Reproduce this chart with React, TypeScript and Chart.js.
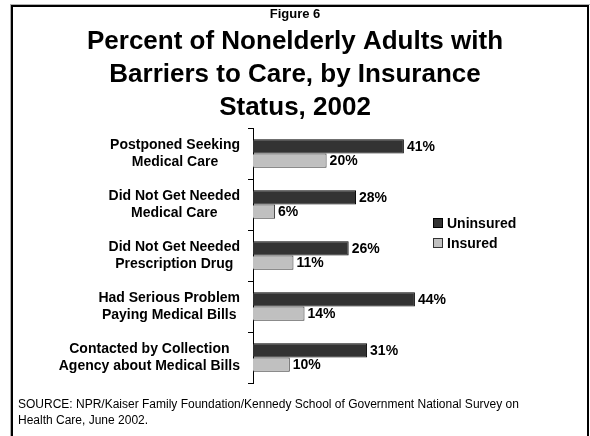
import React, { useEffect, useRef } from 'react';
import { Chart, registerables } from 'chart.js';

Chart.register(...registerables);

const categories: string[][] = [
  ['Postponed Seeking', 'Medical Care'],
  ['Did Not Get Needed', 'Medical Care'],
  ['Did Not Get Needed', 'Prescription Drug'],
  ['Had Serious Problem', 'Paying Medical Bills'],
  ['Contacted by Collection', 'Agency about Medical Bills'],
];
const uninsured = [41, 28, 26, 44, 31];
const insured = [20, 6, 11, 14, 10];
const seriesNames = ['Uninsured', 'Insured'];
const seriesFill = ['#333333', '#c0c0c0'];
const seriesBorder = ['#000000', '#333333'];
const figureLabel = 'Figure 6';
const titleLines = ['Percent of Nonelderly Adults with', 'Barriers to Care, by Insurance', 'Status, 2002'];
const sourceLines = [
  'SOURCE: NPR/Kaiser Family Foundation/Kennedy School of Government National Survey on',
  'Health Care, June 2002.',
];

const FONT = '"Liberation Sans", Arial, Helvetica, sans-serif';

const framePlugin = {
  id: 'frame',
  afterDraw(chart: any) {
    const ctx = chart.ctx;
    ctx.save();
    ctx.fillStyle = '#b0b0b0';
    ctx.fillRect(10, 4, 580, 1);
    ctx.fillRect(10, 4, 1, 440);
    ctx.fillStyle = '#000';
    ctx.fillRect(11, 5, 578, 2);
    ctx.fillRect(11, 5, 2, 440);
    ctx.fillRect(587, 5, 2, 440);
    ctx.restore();
  },
};

const categoryLabelPlugin = {
  id: 'categoryLabels',
  afterDraw(chart: any) {
    const ctx = chart.ctx;
    const yScale = chart.scales.y;
    const right = chart.chartArea.left - 13;
    ctx.save();
    ctx.font = `bold 14px ${FONT}`;
    ctx.fillStyle = '#000';
    ctx.textAlign = 'center';
    ctx.textBaseline = 'middle';
    const lh = 17;
    categories.forEach((lines, i) => {
      const yc = yScale.getPixelForValue(i);
      const w = Math.max(...lines.map((l) => ctx.measureText(l).width));
      const cx = right - w / 2;
      const y0 = yc - ((lines.length - 1) * lh) / 2;
      lines.forEach((l, j) => ctx.fillText(l, cx, y0 + j * lh));
    });
    ctx.restore();
  },
};

const valueLabelPlugin = {
  id: 'valueLabels',
  afterDatasetsDraw(chart: any) {
    const ctx = chart.ctx;
    ctx.save();
    ctx.font = `bold 14px ${FONT}`;
    ctx.fillStyle = '#000';
    ctx.textAlign = 'left';
    ctx.textBaseline = 'middle';
    chart.data.datasets.forEach((ds: any, di: number) => {
      const meta = chart.getDatasetMeta(di);
      meta.data.forEach((el: any, i: number) => {
        ctx.fillText(`${ds.data[i]}%`, el.x + 3, el.y + 1);
      });
    });
    ctx.restore();
  },
};

const legendPlugin = {
  id: 'customLegend',
  afterDraw(chart: any) {
    const ctx = chart.ctx;
    const x = chart.chartArea.right - 4;
    const yStart = 223;
    ctx.save();
    ctx.font = `bold 14px ${FONT}`;
    ctx.textAlign = 'left';
    ctx.textBaseline = 'middle';
    seriesNames.forEach((name, i) => {
      const y = yStart + i * 20;
      ctx.fillStyle = seriesFill[i];
      ctx.fillRect(x, y - 5, 10, 10);
      ctx.strokeStyle = seriesBorder[i];
      ctx.lineWidth = 1;
      ctx.strokeRect(x + 0.5, y - 4.5, 9, 9);
      ctx.fillStyle = '#000';
      ctx.fillText(name, x + 14, y + 1);
    });
    ctx.restore();
  },
};

const sourcePlugin = {
  id: 'sourceText',
  afterDraw(chart: any) {
    const ctx = chart.ctx;
    ctx.save();
    ctx.font = `12px ${FONT}`;
    ctx.fillStyle = '#000';
    ctx.textAlign = 'left';
    ctx.textBaseline = 'middle';
    sourceLines.forEach((l, i) => ctx.fillText(l, 18, 405 + i * 16));
    ctx.restore();
  },
};

export default function App() {
  const ref = useRef<HTMLCanvasElement | null>(null);
  useEffect(() => {
    if (!ref.current) return;
    const chart = new Chart(ref.current, {
      type: 'bar',
      data: {
        labels: categories,
        datasets: [
          {
            label: seriesNames[0],
            data: uninsured,
            backgroundColor: seriesFill[0],
            borderColor: seriesBorder[0],
            borderWidth: 1,
            categoryPercentage: 0.56,
            barPercentage: 1,
          },
          {
            label: seriesNames[1],
            data: insured,
            backgroundColor: seriesFill[1],
            borderColor: seriesBorder[1],
            borderWidth: 1,
            categoryPercentage: 0.56,
            barPercentage: 1,
          },
        ],
      },
      options: {
        indexAxis: 'y',
        responsive: false,
        animation: false,
        devicePixelRatio: 1,
        layout: { padding: { left: 0, right: 0, top: 0, bottom: 53 } },
        plugins: {
          legend: { display: false },
          tooltip: { enabled: false },
          title: {
            display: true,
            text: figureLabel,
            color: '#000',
            font: { family: FONT, size: 13, weight: 'bold', lineHeight: '14px' },
            padding: { top: 7, bottom: 0 },
          },
          subtitle: {
            display: true,
            text: titleLines,
            color: '#000',
            font: { family: FONT, size: 26, weight: 'bold', lineHeight: '33px' },
            padding: { top: 4, bottom: 4 },
          },
        },
        scales: {
          x: { display: false, min: 0, max: 50 },
          y: {
            type: 'category',
            position: 'left',
            grid: {
              display: true,
              drawOnChartArea: false,
              drawTicks: true,
              tickLength: 5,
              color: '#000',
              offset: true,
            },
            border: { display: true, color: '#000', width: 1 },
            ticks: { display: false },
            afterFit: (s: any) => {
              s.width = 253;
            },
          },
          yRight: {
            type: 'linear',
            position: 'right',
            display: true,
            grid: { display: false },
            border: { display: false },
            ticks: { display: false },
            afterFit: (s: any) => {
              s.width = 153;
            },
          },
        },
      } as any,
      plugins: [framePlugin, categoryLabelPlugin, valueLabelPlugin, legendPlugin, sourcePlugin],
    });
    return () => chart.destroy();
  }, []);
  return (
    <div style={{ position: 'fixed', left: 0, top: 0, width: 590, height: 436, background: '#fff' }}>
      <canvas ref={ref} width={590} height={436} style={{ display: 'block' }} />
    </div>
  );
}
